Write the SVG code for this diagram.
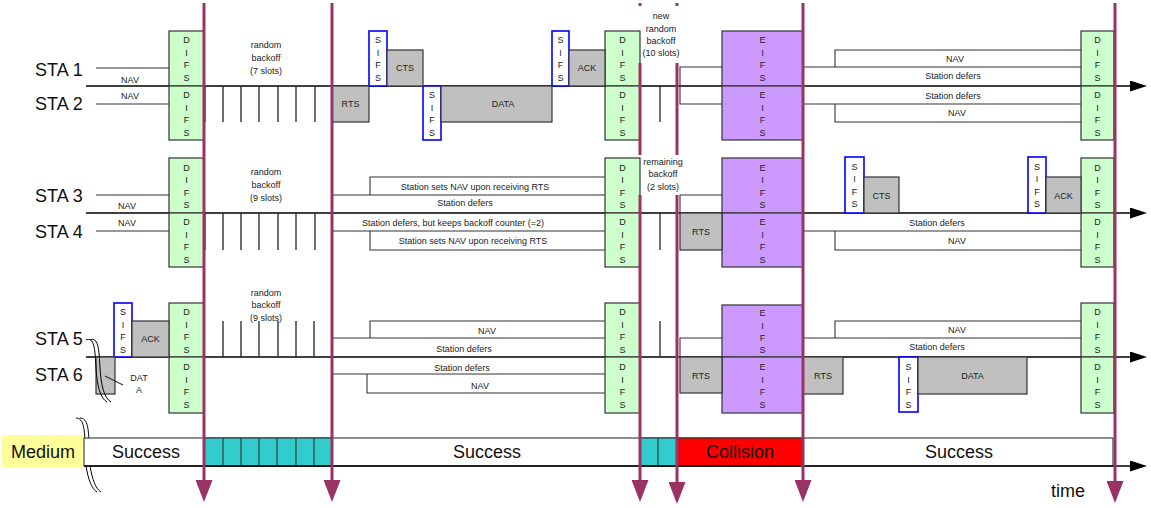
<svg xmlns="http://www.w3.org/2000/svg" width="1151" height="508" viewBox="0 0 1151 508">
<style>
text{font-family:"Liberation Sans",Arial,sans-serif;fill:#222}
.s{font-size:9px;text-anchor:middle}
.big{font-size:18px;fill:#111}
.mid{font-size:18px;text-anchor:middle;fill:#111}
.difs{fill:#ccffcc;stroke:#333;stroke-width:1.2}
.eifs{fill:#cc99ff;stroke:#333;stroke-width:1.2}
.sifs{fill:#fff;stroke:#0000ff;stroke-width:1.6}
.fr{fill:#c0c0c0;stroke:#333;stroke-width:1.2}
.tl{stroke:#000;stroke-width:1.6;fill:none}
.th{stroke:#333;stroke-width:1.1;fill:none}
.tk{stroke:#222;stroke-width:1.3;fill:none}
.mar{stroke:#993366;stroke-width:3;fill:none}
.brk{stroke:#000;stroke-width:1;fill:none}
</style>
<defs>
<marker id="ah" markerUnits="userSpaceOnUse" markerWidth="17" markerHeight="11" refX="0" refY="5.5" orient="auto" viewBox="0 0 17 11"><path d="M0,0 L17,5.5 L0,11 z" fill="#000"/></marker>
<marker id="mh" markerUnits="userSpaceOnUse" markerWidth="22" markerHeight="17" refX="0" refY="8.5" orient="auto" viewBox="0 0 22 17"><path d="M0,0 L22,8.5 L0,17 z" fill="#993366"/></marker>
</defs>
<rect width="1151" height="508" fill="#fff"/>

<!-- station labels -->
<g id="labels">
<text class="big" x="35" y="76">STA 1</text>
<text class="big" x="35" y="110">STA 2</text>
<text class="big" x="35" y="202">STA 3</text>
<text class="big" x="35" y="238">STA 4</text>
<text class="big" x="35" y="345">STA 5</text>
<text class="big" x="35" y="381">STA 6</text>
<text class="s" x="130" y="83">NAV</text>
<text class="s" x="130" y="99">NAV</text>
<text class="s" x="127" y="209">NAV</text>
<text class="s" x="127" y="226">NAV</text>
</g>

<g id="connectors">
<!-- leader lines -->
<path class="th" d="M96,68 H170 M96,104 H170 M96,195 H170 M96,231 H170"/>
<!-- main timelines -->
<path class="tl" d="M86,86 H1130" marker-end="url(#ah)"/>
<path class="tl" d="M86,213 H1130" marker-end="url(#ah)"/>
<path class="tl" d="M86,357 H1130" marker-end="url(#ah)"/>
<!-- defer / NAV outlines -->
<path class="th" d="M680,86 V67 H722 M803,67 H1081 M835,67 V50 H1081"/>
<path class="th" d="M680,86 V104 H722 M803,104 H1081 M835,104 V122 H1081"/>
<path class="th" d="M332,195 H605 M370,195 V177 H605 M680,213 V195 H722"/>
<path class="th" d="M332,231 H605 M370,231 V250 H605 M803,231 H1081 M835,231 V250 H1081"/>
<path class="th" d="M332,338 H605 M370,338 V321 H605 M680,357 V338 H722 M803,338 H1081 M835,338 V321 H1081"/>
<path class="th" d="M332,374 H605 M367,374 V393 H605"/>
<!-- backoff slot ticks -->
<path class="tk" d="M205,86 V122 M223,86 V122 M241,86 V122 M259,86 V122 M278,86 V122 M296,86 V122 M315,86 V122 M660,86 V122"/>
<path class="tk" d="M205,213 V250 M223,213 V250 M241,213 V250 M259,213 V250 M278,213 V250 M296,213 V250 M315,213 V250 M660,213 V250"/>
<path class="tk" d="M223,321 V357 M241,321 V357 M259,321 V357 M278,321 V357 M296,321 V357 M314,321 V357 M660,321 V357"/>
</g>

<!-- texts on defer bars -->
<g id="bar-texts">
<text class="s" x="955" y="62">NAV</text>
<text class="s" x="953" y="79">Station defers</text>
<text class="s" x="953" y="99">Station defers</text>
<text class="s" x="957" y="116">NAV</text>
<text class="s" x="475" y="190">Station sets NAV upon receiving RTS</text>
<text class="s" x="465" y="206">Station defers</text>
<text class="s" x="453" y="226">Station defers, but keeps backoff counter (=2)</text>
<text class="s" x="473" y="244">Station sets NAV upon receiving RTS</text>
<text class="s" x="937" y="226">Station defers</text>
<text class="s" x="957" y="244">NAV</text>
<text class="s" x="487" y="334">NAV</text>
<text class="s" x="464" y="352">Station defers</text>
<text class="s" x="462" y="371">Station defers</text>
<text class="s" x="480" y="389">NAV</text>
<text class="s" x="957" y="333">NAV</text>
<text class="s" x="937" y="350">Station defers</text>
<text class="s" x="266" y="48">random</text><text class="s" x="266" y="61">backoff</text><text class="s" x="266" y="74">(7 slots)</text>
<text class="s" x="266" y="175">random</text><text class="s" x="266" y="188">backoff</text><text class="s" x="266" y="201">(9 slots)</text>
<text class="s" x="266" y="296">random</text><text class="s" x="266" y="308">backoff</text><text class="s" x="266" y="321">(9 slots)</text>
<text class="s" x="661" y="19">new</text><text class="s" x="661" y="32">random</text><text class="s" x="661" y="44">backoff</text><text class="s" x="661" y="56">(10 slots)</text>
<text class="s" x="663" y="165">remaining</text><text class="s" x="663" y="177">backoff</text><text class="s" x="663" y="190">(2 slots)</text>
</g>

<!-- DIFS nodes -->
<g id="difs-1a"><rect class="difs" x="169" y="31" width="35" height="55"/><text class="s" x="186.5" y="43">D</text><text class="s" x="186.5" y="55.5">I</text><text class="s" x="186.5" y="68">F</text><text class="s" x="186.5" y="80.5">S</text></g>
<g id="difs-1b"><rect class="difs" x="169" y="86" width="35" height="54"/><text class="s" x="186.5" y="98">D</text><text class="s" x="186.5" y="110.5">I</text><text class="s" x="186.5" y="123">F</text><text class="s" x="186.5" y="135.5">S</text></g>
<g id="difs-2a"><rect class="difs" x="605" y="31" width="35" height="55"/><text class="s" x="622.5" y="43">D</text><text class="s" x="622.5" y="55.5">I</text><text class="s" x="622.5" y="68">F</text><text class="s" x="622.5" y="80.5">S</text></g>
<g id="difs-2b"><rect class="difs" x="605" y="86" width="35" height="54"/><text class="s" x="622.5" y="98">D</text><text class="s" x="622.5" y="110.5">I</text><text class="s" x="622.5" y="123">F</text><text class="s" x="622.5" y="135.5">S</text></g>
<g id="difs-3a"><rect class="difs" x="1081" y="31" width="33" height="55"/><text class="s" x="1097.5" y="43">D</text><text class="s" x="1097.5" y="55.5">I</text><text class="s" x="1097.5" y="68">F</text><text class="s" x="1097.5" y="80.5">S</text></g>
<g id="difs-3b"><rect class="difs" x="1081" y="86" width="33" height="54"/><text class="s" x="1097.5" y="98">D</text><text class="s" x="1097.5" y="110.5">I</text><text class="s" x="1097.5" y="123">F</text><text class="s" x="1097.5" y="135.5">S</text></g>
<g id="difs-4a"><rect class="difs" x="169" y="158" width="35" height="55"/><text class="s" x="186.5" y="170.5">D</text><text class="s" x="186.5" y="183">I</text><text class="s" x="186.5" y="195.5">F</text><text class="s" x="186.5" y="208">S</text></g>
<g id="difs-4b"><rect class="difs" x="169" y="213" width="35" height="54"/><text class="s" x="186.5" y="225">D</text><text class="s" x="186.5" y="237.5">I</text><text class="s" x="186.5" y="250">F</text><text class="s" x="186.5" y="262.5">S</text></g>
<g id="difs-5a"><rect class="difs" x="605" y="158" width="35" height="55"/><text class="s" x="622.5" y="170.5">D</text><text class="s" x="622.5" y="183">I</text><text class="s" x="622.5" y="195.5">F</text><text class="s" x="622.5" y="208">S</text></g>
<g id="difs-5b"><rect class="difs" x="605" y="213" width="35" height="54"/><text class="s" x="622.5" y="225">D</text><text class="s" x="622.5" y="237.5">I</text><text class="s" x="622.5" y="250">F</text><text class="s" x="622.5" y="262.5">S</text></g>
<g id="difs-6a"><rect class="difs" x="1081" y="158" width="33" height="55"/><text class="s" x="1097.5" y="170.5">D</text><text class="s" x="1097.5" y="183">I</text><text class="s" x="1097.5" y="195.5">F</text><text class="s" x="1097.5" y="208">S</text></g>
<g id="difs-6b"><rect class="difs" x="1081" y="213" width="33" height="54"/><text class="s" x="1097.5" y="225">D</text><text class="s" x="1097.5" y="237.5">I</text><text class="s" x="1097.5" y="250">F</text><text class="s" x="1097.5" y="262.5">S</text></g>
<g id="difs-7a"><rect class="difs" x="169" y="303" width="35" height="54"/><text class="s" x="186.5" y="315">D</text><text class="s" x="186.5" y="327.5">I</text><text class="s" x="186.5" y="340">F</text><text class="s" x="186.5" y="352.5">S</text></g>
<g id="difs-7b"><rect class="difs" x="169" y="357" width="35" height="56"/><text class="s" x="186.5" y="370">D</text><text class="s" x="186.5" y="382.5">I</text><text class="s" x="186.5" y="395">F</text><text class="s" x="186.5" y="407.5">S</text></g>
<g id="difs-8a"><rect class="difs" x="605" y="303" width="35" height="54"/><text class="s" x="622.5" y="315">D</text><text class="s" x="622.5" y="327.5">I</text><text class="s" x="622.5" y="340">F</text><text class="s" x="622.5" y="352.5">S</text></g>
<g id="difs-8b"><rect class="difs" x="605" y="357" width="35" height="56"/><text class="s" x="622.5" y="370">D</text><text class="s" x="622.5" y="382.5">I</text><text class="s" x="622.5" y="395">F</text><text class="s" x="622.5" y="407.5">S</text></g>
<g id="difs-9a"><rect class="difs" x="1081" y="303" width="33" height="54"/><text class="s" x="1097.5" y="315">D</text><text class="s" x="1097.5" y="327.5">I</text><text class="s" x="1097.5" y="340">F</text><text class="s" x="1097.5" y="352.5">S</text></g>
<g id="difs-9b"><rect class="difs" x="1081" y="357" width="33" height="56"/><text class="s" x="1097.5" y="370">D</text><text class="s" x="1097.5" y="382.5">I</text><text class="s" x="1097.5" y="395">F</text><text class="s" x="1097.5" y="407.5">S</text></g>

<!-- EIFS nodes -->
<g id="eifs-1"><rect class="eifs" x="722" y="31" width="81" height="55"/><text class="s" x="762.5" y="43">E</text><text class="s" x="762.5" y="55.5">I</text><text class="s" x="762.5" y="68">F</text><text class="s" x="762.5" y="80.5">S</text></g>
<g id="eifs-2"><rect class="eifs" x="722" y="86" width="81" height="54"/><text class="s" x="762.5" y="98">E</text><text class="s" x="762.5" y="110.5">I</text><text class="s" x="762.5" y="123">F</text><text class="s" x="762.5" y="135.5">S</text></g>
<g id="eifs-3"><rect class="eifs" x="722" y="158" width="81" height="55"/><text class="s" x="762.5" y="170.5">E</text><text class="s" x="762.5" y="183">I</text><text class="s" x="762.5" y="195.5">F</text><text class="s" x="762.5" y="208">S</text></g>
<g id="eifs-4"><rect class="eifs" x="722" y="213" width="81" height="54"/><text class="s" x="762.5" y="225">E</text><text class="s" x="762.5" y="237.5">I</text><text class="s" x="762.5" y="250">F</text><text class="s" x="762.5" y="262.5">S</text></g>
<g id="eifs-5"><rect class="eifs" x="722" y="305" width="81" height="52"/><text class="s" x="762.5" y="316">E</text><text class="s" x="762.5" y="328.5">I</text><text class="s" x="762.5" y="341">F</text><text class="s" x="762.5" y="353">S</text></g>
<g id="eifs-6"><rect class="eifs" x="722" y="357" width="81" height="56"/><text class="s" x="762.5" y="370">E</text><text class="s" x="762.5" y="382.5">I</text><text class="s" x="762.5" y="395">F</text><text class="s" x="762.5" y="407.5">S</text></g>

<!-- SIFS nodes -->
<g id="sifs-1"><rect class="sifs" x="369" y="31" width="18" height="55"/><text class="s" x="378" y="43">S</text><text class="s" x="378" y="55.5">I</text><text class="s" x="378" y="68">F</text><text class="s" x="378" y="80.5">S</text></g>
<g id="sifs-2"><rect class="sifs" x="423" y="86" width="18" height="54"/><text class="s" x="432" y="98">S</text><text class="s" x="432" y="110.5">I</text><text class="s" x="432" y="123">F</text><text class="s" x="432" y="135.5">S</text></g>
<g id="sifs-3"><rect class="sifs" x="552" y="31" width="17" height="55"/><text class="s" x="560.5" y="43">S</text><text class="s" x="560.5" y="55.5">I</text><text class="s" x="560.5" y="68">F</text><text class="s" x="560.5" y="80.5">S</text></g>
<g id="sifs-4"><rect class="sifs" x="845" y="157" width="19" height="56"/><text class="s" x="854.5" y="169.5">S</text><text class="s" x="854.5" y="182">I</text><text class="s" x="854.5" y="194.5">F</text><text class="s" x="854.5" y="207">S</text></g>
<g id="sifs-5"><rect class="sifs" x="1028" y="157" width="18" height="56"/><text class="s" x="1037" y="169.5">S</text><text class="s" x="1037" y="182">I</text><text class="s" x="1037" y="194.5">F</text><text class="s" x="1037" y="207">S</text></g>
<g id="sifs-6"><rect class="sifs" x="114" y="303" width="18" height="54"/><text class="s" x="123" y="315">S</text><text class="s" x="123" y="327.5">I</text><text class="s" x="123" y="340">F</text><text class="s" x="123" y="352.5">S</text></g>
<g id="sifs-7"><rect class="sifs" x="899" y="357" width="19" height="55"/><text class="s" x="908.5" y="370">S</text><text class="s" x="908.5" y="382.5">I</text><text class="s" x="908.5" y="395">F</text><text class="s" x="908.5" y="407.5">S</text></g>

<!-- frames -->
<g id="rts-1"><rect class="fr" x="332" y="86" width="37" height="36"/><text class="s" x="350.5" y="107">RTS</text></g>
<g id="cts-1"><rect class="fr" x="387" y="50" width="36" height="36"/><text class="s" x="405" y="71">CTS</text></g>
<g id="data-1"><rect class="fr" x="441" y="86" width="111" height="36"/><text class="s" x="503" y="107">DATA</text></g>
<g id="ack-1"><rect class="fr" x="569" y="50" width="36" height="36"/><text class="s" x="587" y="71">ACK</text></g>
<g id="rts-2"><rect class="fr" x="680" y="213" width="42" height="37"/><text class="s" x="701" y="235">RTS</text></g>
<g id="cts-2"><rect class="fr" x="864" y="177" width="35" height="36"/><text class="s" x="881.5" y="199">CTS</text></g>
<g id="ack-2"><rect class="fr" x="1046" y="177" width="35" height="36"/><text class="s" x="1063.5" y="199">ACK</text></g>
<g id="data-0"><rect class="fr" x="96" y="357" width="19" height="37"/><path class="th" d="M105,376 L123,385"/><text class="s" x="139" y="381">DAT</text><text class="s" x="139" y="393">A</text></g>
<g id="ack-0"><rect class="fr" x="132" y="321" width="37" height="36"/><text class="s" x="150.5" y="342">ACK</text></g>
<g id="rts-3"><rect class="fr" x="680" y="357" width="42" height="36"/><text class="s" x="701" y="379">RTS</text></g>
<g id="rts-4"><rect class="fr" x="803" y="357" width="40" height="37"/><text class="s" x="823" y="379">RTS</text></g>
<g id="data-2"><rect class="fr" x="918" y="357" width="109" height="37"/><text class="s" x="972.5" y="379">DATA</text></g>

<!-- break marks -->
<g id="breaks">
<path class="brk" d="M86,340 C95,336 95,352 96,368 C97,385 100,398 107,402"/>
<path class="brk" d="M90,340 C99,336 99,352 100,368 C101,385 104,398 111,402"/>
<path class="brk" d="M76,418 C84,418 85,430 85,450 C85,470 90,488 97,492"/>
<path class="brk" d="M80,418 C88,418 89,430 89,450 C89,470 94,488 101,492"/>
</g>

<!-- medium -->
<g id="medium">
<rect x="2" y="435" width="81" height="32" fill="#ffff99"/>
<text class="mid" x="43" y="458">Medium</text>
<rect x="84" y="438" width="1029" height="28" fill="#fff" stroke="#333" stroke-width="1.1"/>
<rect x="204" y="438" width="128" height="28" fill="#33cccc" stroke="#333" stroke-width="1.1"/>
<path class="th" d="M223,438 V466 M241,438 V466 M259,438 V466 M277,438 V466 M296,438 V466 M314,438 V466"/>
<rect x="640" y="438" width="37" height="28" fill="#33cccc" stroke="#333" stroke-width="1.1"/>
<path class="th" d="M658,438 V466"/>
<rect x="677" y="438" width="126" height="28" fill="#ff0000" stroke="#333" stroke-width="1.1"/>
<path class="tl" d="M84,466 H1130" marker-end="url(#ah)" style="stroke-width:1.3"/>
<text class="mid" x="146" y="458">Success</text>
<text class="mid" x="487" y="458">Success</text>
<text class="mid" x="740" y="458">Collision</text>
<text class="mid" x="959" y="458">Success</text>
<text class="mid" x="1068" y="497">time</text>
</g>

<!-- maroon time markers -->
<g id="markers">
<path class="mar" d="M204,3 V480" marker-end="url(#mh)"/>
<path class="mar" d="M332,3 V480" marker-end="url(#mh)"/>
<path class="mar" d="M640,3 V6 M640,63 V155 M640,195 V480" marker-end="url(#mh)"/>
<path class="mar" d="M677,3 V6 M677,63 V155 M677,195 V482" marker-end="url(#mh)"/>
<path class="mar" d="M803,3 V480" marker-end="url(#mh)"/>
<path class="mar" d="M1115,3 V481" marker-end="url(#mh)"/>
</g>
</svg>
